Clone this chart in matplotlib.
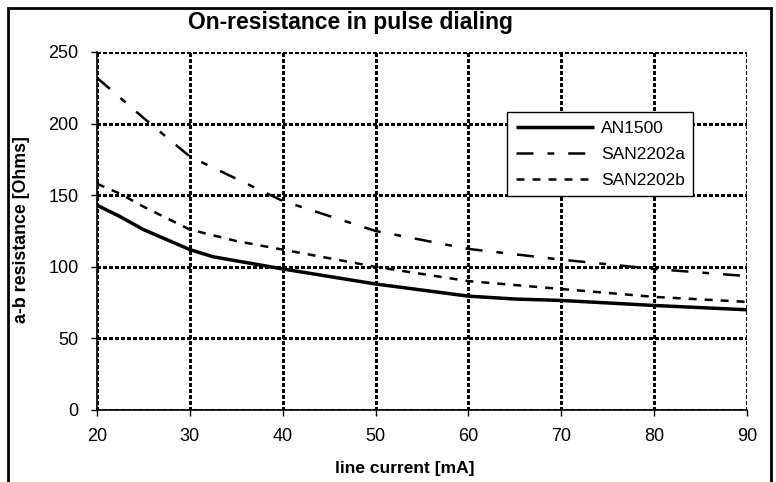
import matplotlib
matplotlib.use("Agg")
import matplotlib.pyplot as plt
from matplotlib.patches import Rectangle

plt.rcParams['font.family'] = ['Liberation Sans', 'DejaVu Sans']

title = "On-resistance in pulse dialing"
xlabel = "line current [mA]"
ylabel = "a-b resistance [Ohms]"

an1500_x = [20, 22.5, 25, 30, 32.5, 40, 50, 60, 65, 70, 80, 90]
an1500_y = [143, 135, 126, 112, 107, 98.5, 88, 79.5, 77.5, 76.5, 73, 70]

san_a_x = [20, 25, 30, 40, 50, 60, 70, 80, 90]
san_a_y = [232, 204, 177, 146, 125, 112.5, 105, 98.5, 93.5]

san_b_x = [20, 22.5, 25, 30, 35, 40, 45, 50, 60, 70, 80, 90]
san_b_y = [158, 151, 142, 126, 118, 112, 106, 100, 90, 84.5, 79, 75.5]

xticks = [20, 30, 40, 50, 60, 70, 80, 90]
yticks = [0, 50, 100, 150, 200, 250]

fig = plt.figure(figsize=(7.76, 4.82), dpi=100)
ax = fig.add_axes([97/776, 1-410/482, 650/776, 358/482])

ax.plot(an1500_x, an1500_y, color='black', lw=2.5, label='AN1500', solid_capstyle='butt', zorder=4)
ax.plot(san_a_x, san_a_y, color='black', lw=1.8, dashes=(6.8, 5.6, 2.7, 5.6), label='SAN2202a', zorder=4)
ax.plot(san_b_x, san_b_y, color='black', lw=1.8, dashes=(3.2, 3.2), label='SAN2202b', zorder=4)

ax.set_xlim(20, 90)
ax.set_ylim(0, 250)
ax.set_xticks(xticks)
ax.set_yticks(yticks)
ax.tick_params(axis='both', direction='out', length=4.3, width=1, labelsize=13, colors='black')
ax.tick_params(axis='x', pad=9)
ax.tick_params(axis='y', pad=9)
ax.grid(True, color='black', lw=2.2, linestyle=(0, (1.3, 0.9)), antialiased=False)
ax.set_axisbelow(False)
for s in ['top', 'right']:
    ax.spines[s].set_visible(False)
for s in ['left', 'bottom']:
    ax.spines[s].set_linewidth(1.2)
    ax.spines[s].set_zorder(3)

leg = ax.legend(loc='upper left', bbox_to_anchor=(410/650, 298/358), fontsize=12.5,
                handlelength=4.5, frameon=True, fancybox=False, borderaxespad=0,
                handletextpad=0.4, labelspacing=0.62, borderpad=0.5, framealpha=1)
leg.get_frame().set_edgecolor('black')
leg.get_frame().set_linewidth(1.0)
leg.set_zorder(5)

fig.text(350/776, 1-22/482, title, ha='center', va='center', fontsize=16.5, fontweight='bold')
fig.text(405/776, 1-469/482, xlabel, ha='center', va='center', fontsize=12.5, fontweight='bold')
fig.text(22/776, 1-230/482, ylabel, ha='center', va='center', rotation=90, fontsize=12.8, fontweight='bold')

fig.patches.append(Rectangle((8/776, -0.05), (771-8)/776, 1.05 - 8/482, transform=fig.transFigure,
                             fill=False, edgecolor='black', lw=2, clip_on=False))

fig.savefig('out.png', dpi=100)
